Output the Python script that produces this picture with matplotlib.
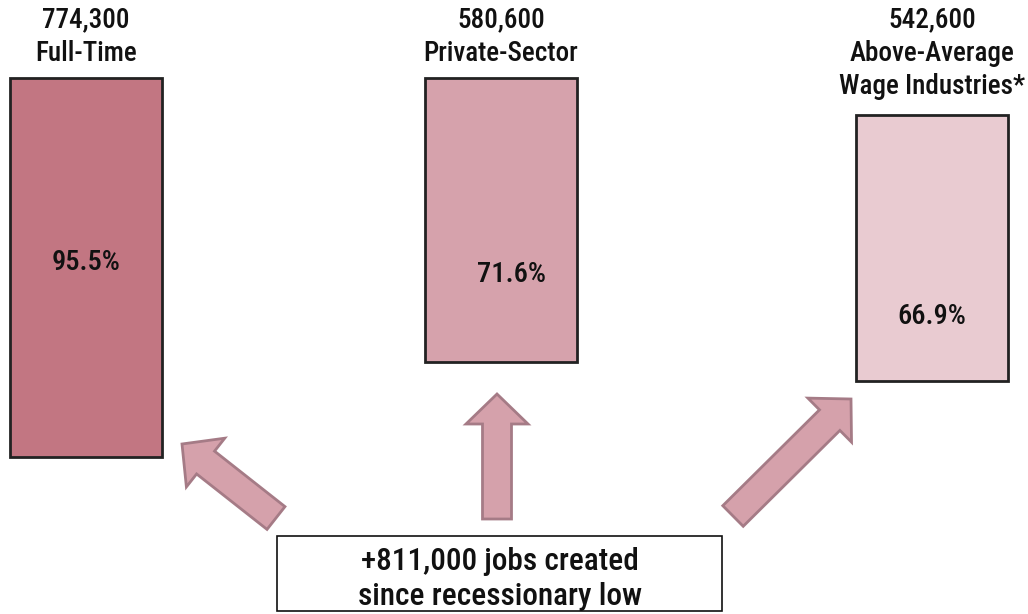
import matplotlib.pyplot as plt
from matplotlib.patches import FancyArrow, Rectangle

# job gains since the recessionary low, by category
categories = ['Full-Time', 'Private-Sector', 'Above-Average\nWage Industries*']
jobs = [774300, 580600, 542600]
shares = ['95.5%', '71.6%', '66.9%']
total_label = '+811,000 jobs created\nsince recessionary low'

bar_colors = ['#C27682', '#D6A2AC', '#E9CBD1']
arrow_face = '#D5A1AB'
arrow_edge = '#A57B86'

plt.rcParams['font.family'] = ['Roboto Condensed', 'Roboto', 'DejaVu Sans']

fig = plt.figure(figsize=(10.28, 6.14), dpi=100)
ax = fig.add_axes([0, 0, 1, 1])
ax.set_xlim(0, 1028)
ax.set_ylim(614, 0)
ax.axis('off')

# layout in pixel space: bar centres, bar tops, where the share label sits
xs = [86, 501, 932]
tops = [78, 78, 115]
share_y = [263, 275, 316]
px_per_job = 379 / jobs[0]

heights = [j * px_per_job for j in jobs]
ax.bar(xs, heights, bottom=tops, width=152, color=bar_colors,
       edgecolor='#222222', linewidth=2)

for x, j, cat, sy, s in zip(xs, jobs, categories, share_y, shares):
    ax.text(x, 6, f'{j:,}\n{cat}', ha='center', va='top', fontsize=19.5,
            fontweight='medium', linespacing=1.32, color='#111111')
    ax.text(x + (11 if s == '71.6%' else 0), sy, s, ha='center', va='center',
            fontsize=20.5, fontweight='medium', color='#111111')

# arrows from the total box up to each bar
arrows = [((276, 518), (182, 444)), ((497, 519), (497, 394)), ((733, 516), (851, 399))]
for (x0, y0), (x1, y1) in arrows:
    ax.add_patch(FancyArrow(x0, y0, x1 - x0, y1 - y0, width=29, head_width=62,
                            head_length=30, length_includes_head=True,
                            facecolor=arrow_face, edgecolor=arrow_edge, linewidth=2))

ax.add_patch(Rectangle((277, 536), 445, 75, facecolor='white', edgecolor='#111111',
                       linewidth=1.2))
ax.text(499.5, 579, total_label, ha='center', va='center', fontsize=22.5,
        fontweight='medium', linespacing=1.27, color='#111111')

fig.savefig('out.png', dpi=100)
